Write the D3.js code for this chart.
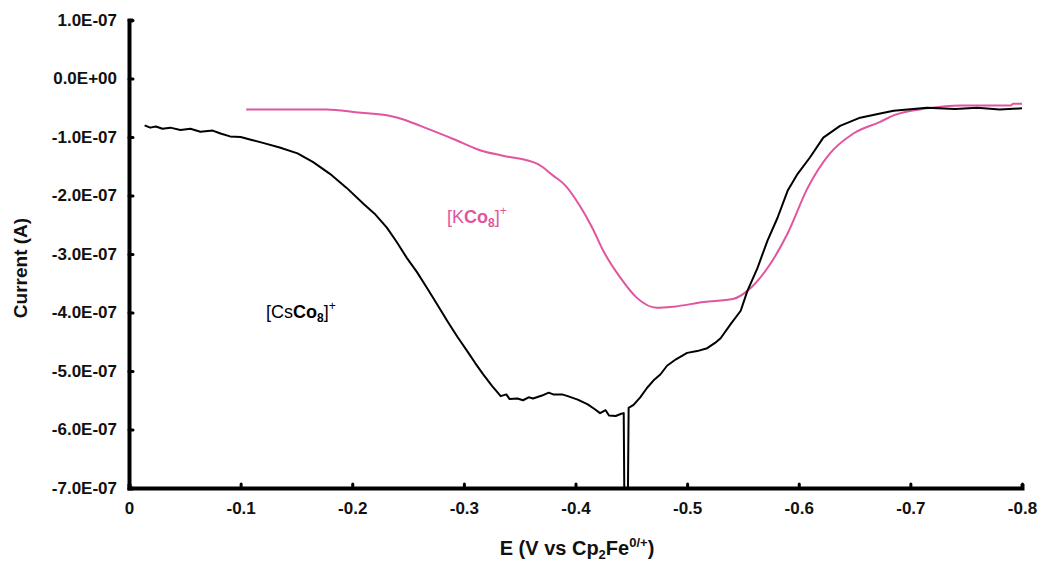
<!DOCTYPE html>
<html>
<head>
<meta charset="utf-8">
<script src="https://cdn.jsdelivr.net/npm/d3@7/dist/d3.min.js"></script>
<style>
  body { margin: 0; background: #fff; }
  svg { display: block; font-family: "Liberation Sans", Arial, sans-serif; }
</style>
</head>
<body>
<svg width="1041" height="563"></svg>
<script>
// potentials (V vs Cp2Fe0/+) and currents (x 1e-7 A)
var csPotential = [-0.014, -0.019, -0.024, -0.030, -0.037, -0.046, -0.055, -0.064, -0.075, -0.082, -0.0905, -0.100,
  -0.110, -0.120, -0.135, -0.151, -0.165, -0.180, -0.195, -0.210, -0.220, -0.231, -0.240, -0.249, -0.258, -0.267,
  -0.276, -0.285, -0.294, -0.303, -0.310, -0.317, -0.325, -0.333, -0.338, -0.341, -0.348, -0.353, -0.358, -0.362,
  -0.370, -0.376, -0.380, -0.388, -0.393, -0.402, -0.411, -0.417, -0.422, -0.427, -0.430, -0.436, -0.441, -0.4432,
  -0.4437, -0.4470, -0.4476, -0.452, -0.458, -0.464, -0.470, -0.476, -0.482, -0.490, -0.500, -0.509, -0.518, -0.525,
  -0.530, -0.539, -0.548, -0.554, -0.563, -0.572, -0.581, -0.590, -0.599, -0.610, -0.622, -0.637, -0.655, -0.673,
  -0.685, -0.715, -0.740, -0.760, -0.780, -0.800];
var csCurrent = [-0.80, -0.84, -0.82, -0.86, -0.84, -0.88, -0.86, -0.91, -0.89, -0.94, -0.99, -1.00,
  -1.05, -1.10, -1.18, -1.28, -1.43, -1.63, -1.87, -2.14, -2.31, -2.55, -2.80, -3.07, -3.31, -3.58,
  -3.86, -4.14, -4.41, -4.66, -4.86, -5.05, -5.25, -5.43, -5.40, -5.48, -5.47, -5.50, -5.45, -5.47,
  -5.42, -5.37, -5.40, -5.40, -5.43, -5.49, -5.57, -5.65, -5.72, -5.67, -5.76, -5.77, -5.73, -5.72,
  -7.00, -7.00, -5.63, -5.58, -5.45, -5.29, -5.16, -5.06, -4.91, -4.80, -4.69, -4.66, -4.61, -4.52,
  -4.44, -4.20, -3.97, -3.63, -3.24, -2.77, -2.38, -1.92, -1.63, -1.35, -1.01, -0.81, -0.67, -0.60,
  -0.55, -0.50, -0.52, -0.50, -0.53, -0.51];

var kPotential = [-0.105, -0.140, -0.177, -0.205, -0.231, -0.246, -0.261, -0.290, -0.315, -0.335, -0.366, -0.380,
  -0.391, -0.404, -0.415, -0.425, -0.440, -0.455, -0.473, -0.488, -0.515, -0.541, -0.554, -0.572, -0.590, -0.608,
  -0.628, -0.649, -0.673, -0.685, -0.715, -0.745, -0.790, -0.792, -0.800];
var kCurrent = [-0.53, -0.53, -0.53, -0.58, -0.63, -0.70, -0.81, -1.03, -1.23, -1.32, -1.46, -1.66,
  -1.83, -2.18, -2.55, -2.95, -3.40, -3.75, -3.92, -3.90, -3.82, -3.77, -3.63, -3.24, -2.65, -1.87,
  -1.28, -0.94, -0.74, -0.63, -0.51, -0.46, -0.46, -0.43, -0.43];

var xTicks = [0, -0.1, -0.2, -0.3, -0.4, -0.5, -0.6, -0.7, -0.8];
var xTickLabels = ["0", "-0.1", "-0.2", "-0.3", "-0.4", "-0.5", "-0.6", "-0.7", "-0.8"];
var yTicks = [1, 0, -1, -2, -3, -4, -5, -6, -7];
var yTickLabels = ["1.0E-07", "0.0E+00", "-1.0E-07", "-2.0E-07", "-3.0E-07", "-4.0E-07", "-5.0E-07", "-6.0E-07", "-7.0E-07"];

var svg = d3.select("svg");

var x = d3.scaleLinear().domain([0, -0.8]).range([129, 1022]);
var y = d3.scaleLinear().domain([-7, 1]).range([488, 20]);

// axes: thick lines, short inward ticks
var xAxis = svg.append("g")
    .attr("transform", "translate(0," + y(-7) + ")")
    .call(d3.axisBottom(x).tickValues(xTicks).tickSize(-4).tickPadding(14)
      .tickFormat(function(d, i) { return xTickLabels[i]; }));

var yAxis = svg.append("g")
    .attr("transform", "translate(" + x(0) + ",0)")
    .call(d3.axisLeft(y).tickValues(yTicks).tickSize(-4).tickPadding(12)
      .tickFormat(function(d, i) { return yTickLabels[i]; }));

[xAxis, yAxis].forEach(function(a) {
  a.select(".domain").attr("stroke", "#000").attr("stroke-width", 4);
  a.selectAll(".tick line").attr("stroke", "#000").attr("stroke-width", 3).attr("stroke-linecap", "round");
  a.selectAll(".tick text").attr("fill", "#111").attr("font-size", 17).attr("font-weight", "bold")
    .attr("font-family", "Liberation Sans, Arial, sans-serif");
});
xAxis.selectAll(".tick text").attr("dy", "0.71em");

var line = d3.line()
    .x(function(d) { return x(d[0]); })
    .y(function(d) { return y(d[1]); });

svg.append("path")
    .datum(d3.zip(kPotential, kCurrent))
    .attr("fill", "none")
    .attr("stroke", "#e0559e")
    .attr("stroke-width", 2)
    .attr("d", line.curve(d3.curveMonotoneX));

svg.append("path")
    .datum(d3.zip(csPotential, csCurrent))
    .attr("fill", "none")
    .attr("stroke", "#000")
    .attr("stroke-width", 2)
    .attr("stroke-linejoin", "round")
    .attr("d", line.curve(d3.curveLinear));

// series labels
function compoundLabel(px, py, cation, color) {
  var t = svg.append("text")
      .attr("x", px).attr("y", py)
      .attr("font-size", 18)
      .attr("fill", color);
  t.append("tspan").text("[" + cation);
  t.append("tspan").attr("font-weight", "bold").text("Co");
  t.append("tspan").attr("font-weight", "bold").attr("font-size", 12).attr("dy", 4).text("8");
  t.append("tspan").attr("dy", -4).text("]");
  t.append("tspan").attr("font-size", 12).attr("dy", -8).text("+");
}
compoundLabel(266, 318, "Cs", "#000");
compoundLabel(447, 223, "K", "#e0559e");

// axis titles
var xt = svg.append("text")
    .attr("x", 577).attr("y", 555)
    .attr("text-anchor", "middle")
    .attr("font-size", 20).attr("font-weight", "bold").attr("fill", "#111");
xt.append("tspan").text("E (V vs Cp");
xt.append("tspan").attr("font-size", 13).attr("dy", 4).text("2");
xt.append("tspan").attr("dy", -4).text("Fe");
xt.append("tspan").attr("font-size", 13).attr("dy", -8).text("0/+");
xt.append("tspan").attr("dy", 8).text(")");

svg.append("text")
    .attr("transform", "translate(27,268) rotate(-90)")
    .attr("text-anchor", "middle")
    .attr("font-size", 19).attr("font-weight", "bold").attr("fill", "#111")
    .text("Current (A)");
</script>
</body>
</html>
